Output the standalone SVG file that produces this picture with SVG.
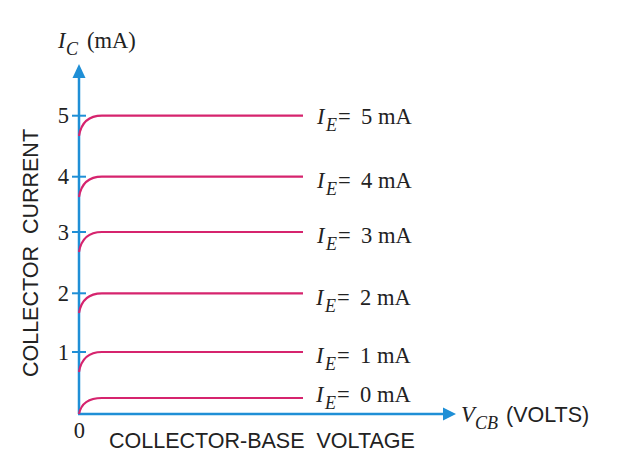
<svg xmlns="http://www.w3.org/2000/svg" width="621" height="461" viewBox="0 0 621 461">
<style>
.ax{stroke:#1f8fd6;stroke-width:2.5;fill:none}
.tk{stroke:#1f8fd6;stroke-width:2;fill:none}
.cv{stroke:#d6246e;stroke-width:2.2;fill:none}
.serif{font-family:"Liberation Serif","Times New Roman",serif;font-size:22.5px;fill:#222}
.sans{font-family:"Liberation Sans",Arial,sans-serif;font-size:21.5px;fill:#222}
.it{font-style:italic}
.sub{font-style:italic;font-size:18px}
</style>
<rect width="621" height="461" fill="#fff"/>
<g id="axes">
<line class="ax" x1="79" y1="414" x2="79" y2="76"/>
<polygon points="79,64 72.5,78 85.5,78" fill="#1f8fd6"/>
<line class="ax" x1="78" y1="414" x2="445" y2="414"/>
<polygon points="456,414 443,407.5 443,420.5" fill="#1f8fd6"/>
<line class="tk" x1="72" y1="115.7" x2="86" y2="115.7"/>
<line class="tk" x1="72" y1="176.7" x2="86" y2="176.7"/>
<line class="tk" x1="72" y1="232" x2="86" y2="232"/>
<line class="tk" x1="72" y1="293.3" x2="86" y2="293.3"/>
<line class="tk" x1="72" y1="352" x2="86" y2="352"/>
</g>
<g id="tick-labels" class="serif" text-anchor="end">
<text x="69" y="123">5</text>
<text x="69" y="184">4</text>
<text x="69" y="240">3</text>
<text x="69" y="301">2</text>
<text x="69" y="360">1</text>
<text x="85" y="438" text-anchor="end">0</text>
</g>
<g id="curves">
<path class="cv" d="M79,136 C81,124 88,115.7 102,115.7 H303"/>
<path class="cv" d="M79,197 C81,185 88,176.7 102,176.7 H303"/>
<path class="cv" d="M79,252 C81,240 88,232 102,232 H303"/>
<path class="cv" d="M79,313 C81,301 88,293.3 102,293.3 H303"/>
<path class="cv" d="M79,372 C81,360 88,352 102,352 H303"/>
<path class="cv" d="M79,414 C81,404 88,398 102,398 H303"/>
</g>
<g id="curve-labels" class="serif">
<text y="124"><tspan class="it" x="317">I</tspan><tspan class="sub" x="326" dy="7">E</tspan><tspan x="338" dy="-7">=</tspan><tspan x="361">5 mA</tspan></text>
<text y="188"><tspan class="it" x="317">I</tspan><tspan class="sub" x="326" dy="7">E</tspan><tspan x="338" dy="-7">=</tspan><tspan x="361">4 mA</tspan></text>
<text y="243"><tspan class="it" x="317">I</tspan><tspan class="sub" x="326" dy="7">E</tspan><tspan x="338" dy="-7">=</tspan><tspan x="361">3 mA</tspan></text>
<text y="305"><tspan class="it" x="316">I</tspan><tspan class="sub" x="325" dy="7">E</tspan><tspan x="337" dy="-7">=</tspan><tspan x="360">2 mA</tspan></text>
<text y="363"><tspan class="it" x="316">I</tspan><tspan class="sub" x="325" dy="7">E</tspan><tspan x="337" dy="-7">=</tspan><tspan x="360">1 mA</tspan></text>
<text y="402"><tspan class="it" x="316">I</tspan><tspan class="sub" x="325" dy="7">E</tspan><tspan x="337" dy="-7">=</tspan><tspan x="360">0 mA</tspan></text>
</g>
<g id="axis-titles">
<text class="serif" y="48"><tspan class="it" x="58">I</tspan><tspan class="sub" x="66" dy="7">C</tspan><tspan x="87" dy="-7">(mA)</tspan></text>
<text class="serif" y="422"><tspan class="it" x="461">V</tspan><tspan class="sub" x="475" dy="7">CB</tspan></text>
<text class="sans" x="506" y="422">(VOLTS)</text>
<text class="sans" x="109" y="448" xml:space="preserve">COLLECTOR-BASE  VOLTAGE</text>
<text class="sans" transform="translate(38,253) rotate(-90)" text-anchor="middle" xml:space="preserve">COLLECTOR  CURRENT</text>
</g>
</svg>
